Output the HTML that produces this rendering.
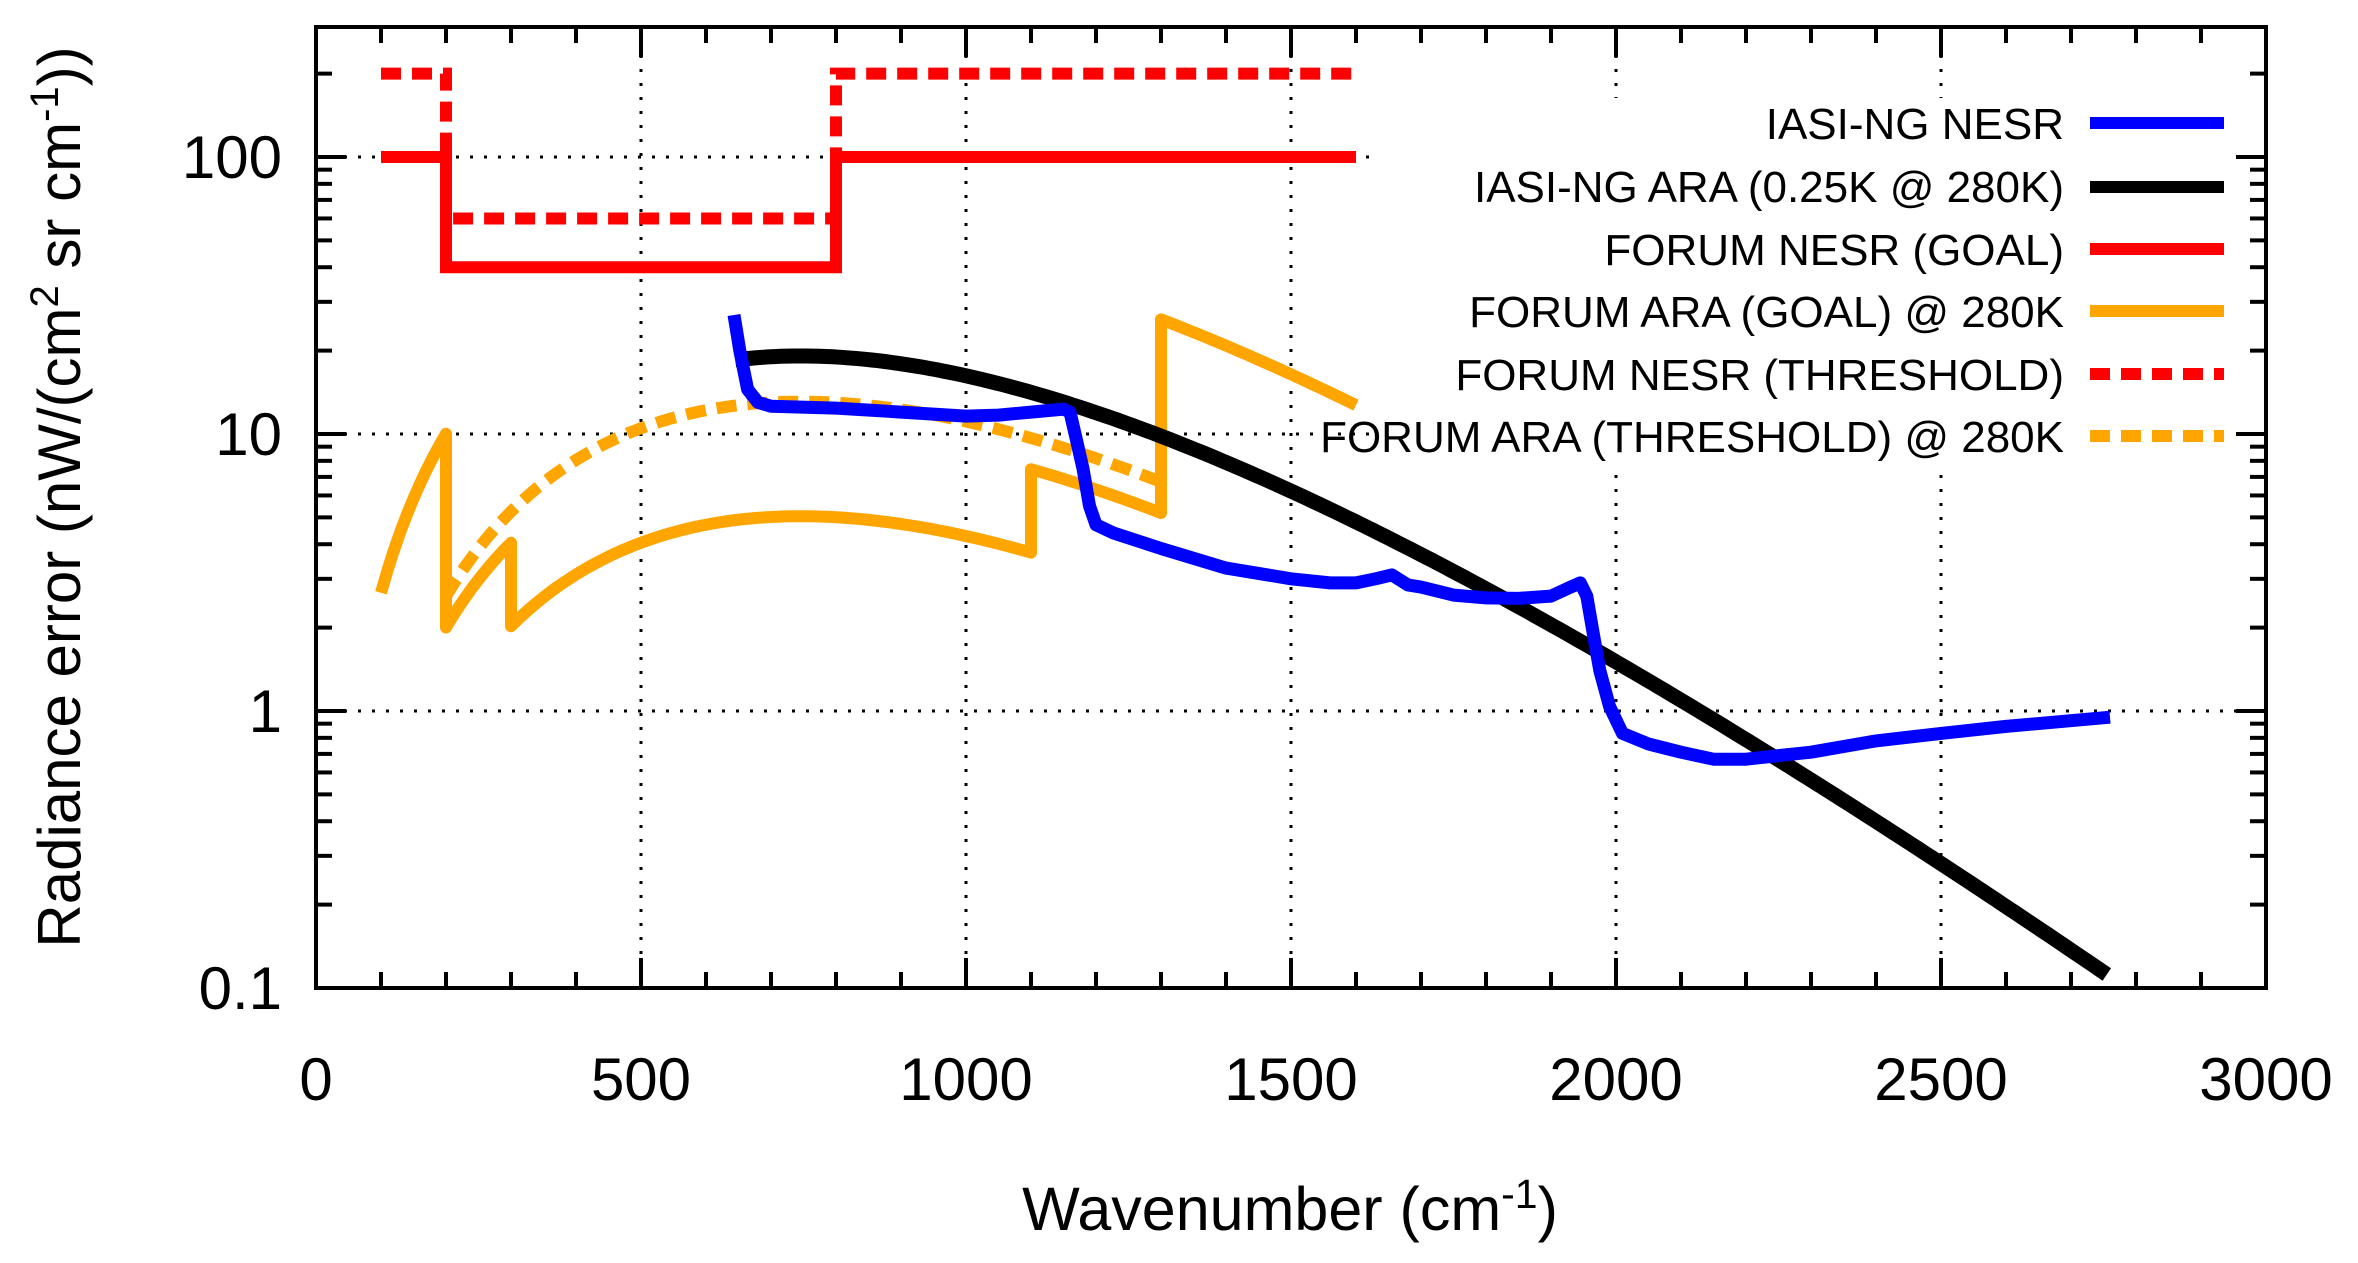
<!DOCTYPE html>
<html><head><meta charset="utf-8"><style>
html,body{margin:0;padding:0;background:#fff;}
svg{display:block;font-family:"Liberation Sans",sans-serif;}
</style></head><body>
<svg id="s" width="2358" height="1263" viewBox="0 0 2358 1263" xmlns="http://www.w3.org/2000/svg">
<rect width="2358" height="1263" fill="#fff"/>
<g id="grid"></g>
<g id="data"></g>
<rect x="1380" y="98" width="865" height="366" fill="#fff"/>
<g id="axes"></g>
<g id="legend" font-size="44" text-anchor="end">
<text x="2064" y="139">IASI-NG NESR</text>
<text x="2064" y="202">IASI-NG ARA (0.25K @ 280K)</text>
<text x="2064" y="265">FORUM NESR (GOAL)</text>
<text x="2064" y="327">FORUM ARA (GOAL) @ 280K</text>
<text x="2064" y="390">FORUM NESR (THRESHOLD)</text>
<text x="2064" y="452">FORUM ARA (THRESHOLD) @ 280K</text>
<line x1="2090" x2="2224" y1="123" y2="123" stroke="#0000ff" stroke-width="12"/>
<line x1="2090" x2="2224" y1="187" y2="187" stroke="#000" stroke-width="12"/>
<line x1="2090" x2="2224" y1="249" y2="249" stroke="#ff0000" stroke-width="12"/>
<line x1="2090" x2="2224" y1="311" y2="311" stroke="#ffa500" stroke-width="12"/>
<line x1="2090" x2="2224" y1="374" y2="374" stroke="#ff0000" stroke-width="12" stroke-dasharray="20,11"/>
<line x1="2090" x2="2224" y1="436" y2="436" stroke="#ffa500" stroke-width="12" stroke-dasharray="20,11"/>
</g>
<g fill="#000">
<text x="1290" y="1230" text-anchor="middle" font-size="61">Wavenumber (cm<tspan dy="-22" font-size="41">-1</tspan><tspan dy="22">)</tspan></text>
<text transform="translate(80,497) rotate(-90)" text-anchor="middle" font-size="60">Radiance error (nW/(cm<tspan dy="-22" font-size="40">2</tspan><tspan dy="22"> sr cm</tspan><tspan dy="-22" font-size="40">-1</tspan><tspan dy="22">))</tspan></text>
</g>
</svg>
<script>
const L=316,R=2266,T=27,B=988;
const X=w=>L+w*0.65;
const Y=v=>B-277*(Math.log10(v)+1);
const NS="http://www.w3.org/2000/svg";
function el(p,tag,a,txt){const e=document.createElementNS(NS,tag);for(const k in a)e.setAttribute(k,a[k]);if(txt!==undefined)e.textContent=txt;document.getElementById(p).appendChild(e);return e;}
for(const w of [500,1000,1500,2000,2500]) el('grid','line',{x1:X(w),x2:X(w),y1:T,y2:B,stroke:'#000','stroke-width':3,'stroke-dasharray':'3,11'});
for(const v of [1,10,100]) el('grid','line',{x1:L,x2:R,y1:Y(v),y2:Y(v),stroke:'#000','stroke-width':3,'stroke-dasharray':'3,11'});
function dB(n){const T0=280,x=1.4388*n/T0,e=Math.exp(x);const Bv=1.191e-3*n*n*n/(e-1);return Bv*x/T0*e/(e-1);}
function path(pts){return 'M'+pts.map(p=>X(p[0]).toFixed(1)+','+Y(p[1]).toFixed(1)).join('L');}
function fn(a,b,k,st){const r=[];for(let n=a;n<=b+1e-9;n+=st)r.push([n,k*dB(n)]);return r;}
el('data','path',{d:path([[100,100],[200,100],[200,40],[800,40],[800,100],[1600,100]]),fill:'none',stroke:'#ff0000','stroke-width':12});
el('data','path',{d:path([[100,200],[200,200],[200,60],[800,60],[800,200],[1600,200]]),fill:'none',stroke:'#ff0000','stroke-width':12,'stroke-dasharray':'20,11'});
let g=[].concat(fn(100,200,0.33,5),fn(200,300,0.066,5),fn(300,1100,0.033,10),fn(1100,1300,0.066,10),fn(1300,1600,0.33,10));
el('data','path',{d:path(g),fill:'none',stroke:'#ffa500','stroke-width':12,'stroke-linejoin':'round'});
el('data','path',{d:path(fn(200,1300,0.0855,10)),fill:'none',stroke:'#ffa500','stroke-width':12,'stroke-dasharray':'20,11'});
el('data','path',{d:path(fn(645,2760,0.125,10)),fill:'none',stroke:'#000','stroke-width':15});
const bp=[[643,26.9],[652,20],[664,14.5],[680,13],[700,12.6],[800,12.4],[900,12],[1000,11.6],[1050,11.7],[1100,12],[1150,12.3],[1160,12],[1170,9.5],[1180,7.5],[1190,5.5],[1200,4.7],[1226,4.4],[1300,3.86],[1400,3.28],[1500,3.0],[1560,2.9],[1600,2.9],[1630,3.0],[1655,3.1],[1680,2.85],[1700,2.8],[1750,2.62],[1800,2.56],[1850,2.55],[1900,2.6],[1930,2.8],[1945,2.9],[1955,2.6],[1965,1.9],[1975,1.4],[1990,1.04],[2010,0.83],[2050,0.76],[2100,0.71],[2150,0.67],[2200,0.67],[2250,0.69],[2300,0.71],[2400,0.78],[2500,0.83],[2600,0.88],[2760,0.95]];
el('data','path',{d:path(bp),fill:'none',stroke:'#0000ff','stroke-width':13,'stroke-linejoin':'round'});
el('axes','rect',{x:L,y:T,width:R-L,height:B-T,fill:'none',stroke:'#000','stroke-width':4});
for(let w=100;w<3000;w+=100){const maj=w%500==0,len=maj?30:16;
 el('axes','line',{x1:X(w),x2:X(w),y1:B,y2:B-len,stroke:'#000','stroke-width':4});
 el('axes','line',{x1:X(w),x2:X(w),y1:T,y2:T+len,stroke:'#000','stroke-width':4});}
for(let w=0;w<=3000;w+=500) el('axes','text',{x:X(w),y:1100,'text-anchor':'middle','font-size':60},String(w));
for(let d=-1;d<=2;d++){for(let m=1;m<=9;m++){const v=m*Math.pow(10,d);if(v>300)continue;const maj=m==1,len=maj?30:16;
 if(Y(v)<T)continue;
 el('axes','line',{x1:L,x2:L+len,y1:Y(v),y2:Y(v),stroke:'#000','stroke-width':4});
 el('axes','line',{x1:R,x2:R-len,y1:Y(v),y2:Y(v),stroke:'#000','stroke-width':4});}}
[[0.1,'0.1'],[1,'1'],[10,'10'],[100,'100']].forEach(([v,t])=>el('axes','text',{x:282,y:Y(v)+21,'text-anchor':'end','font-size':60},t));
</script>
</body></html>
